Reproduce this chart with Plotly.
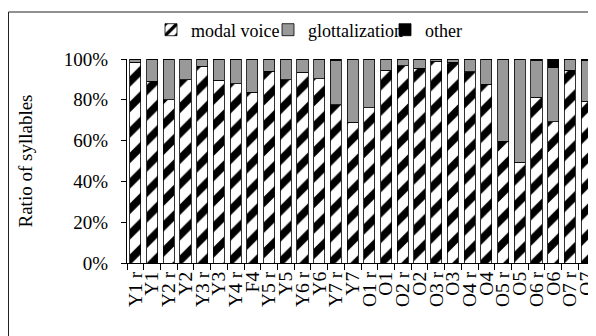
import plotly.graph_objects as go

categories = ["Y1 r", "Y1", "Y2 r", "Y2", "Y3 r", "Y3", "Y4 r", "F4", "Y5 r", "Y5",
              "Y6 r", "Y6", "Y7 r", "Y7", "O1 r", "O1", "O2 r", "O2", "O3 r", "O3",
              "O4 r", "O4", "O5 r", "O5", "O6 r", "O6", "O7 r", "O7"]
modal = [98.5, 89.1, 80.1, 89.9, 96.4, 89.5, 87.9, 83.7, 94.0, 89.9,
         93.6, 90.2, 77.6, 69.0, 76.0, 94.4, 96.7, 95.4, 98.9, 98.4,
         93.8, 87.7, 59.6, 49.3, 81.2, 69.3, 94.4, 79.2]
other = [0, 0, 0, 0, 0, 0, 0, 0, 0, 0,
         0, 0, 0.5, 0, 0, 0, 0, 0, 0, 0,
         0, 0, 0, 0, 0.5, 4.4, 0, 0.5]
glott = [round(100 - m - o, 1) for m, o in zip(modal, other)]
y_ticks = [0, 20, 40, 60, 80, 100]
y_tick_labels = ["0%", "20%", "40%", "60%", "80%", "100%"]

FONT = "Liberation Serif, Times New Roman, serif"
OFF = 8  # page body margin of the html page
W, H = 596 - OFF, 336 - OFF
ML, MR, MT, MB = 127 - OFF, 1, 59 - OFF, 73
PW, PH = W - ML - MR, H - MT - MB


def px_x(xw):
    return (xw - OFF - ML) / PW


def px_y(yw):
    return (H - MB - (yw - OFF)) / PH


fig = go.Figure()
fig.add_trace(go.Bar(
    x=categories, y=modal, name="modal voice", legend="legend",
    marker=dict(color="white", line=dict(color="black", width=0.8),
                pattern=dict(shape="/", fgcolor="black", bgcolor="white",
                             fgopacity=1, size=18, solidity=0.42,
                             fillmode="replace")),
))
fig.add_trace(go.Bar(
    x=categories, y=glott, name="glottalization", legend="legend2",
    marker=dict(color="#999999", line=dict(color="black", width=0.8)),
))
fig.add_trace(go.Bar(
    x=categories, y=other, name="other", legend="legend3",
    marker=dict(color="black", line=dict(color="black", width=0.8)),
))

# outer chart frame (only top/left edges fall inside the picture)
fig.add_shape(type="rect", xref="paper", yref="paper",
              x0=px_x(8.5), x1=1.1, y0=-1.0, y1=px_y(12),
              line=dict(color="#222222", width=1), fillcolor="rgba(0,0,0,0)",
              layer="below")

leg_common = dict(orientation="h", xanchor="left", yanchor="middle",
                  font=dict(family=FONT, size=18, color="black"),
                  itemwidth=30, bgcolor="rgba(0,0,0,0)", borderwidth=0)

fig.update_layout(
    width=W, height=H,
    margin=dict(l=ML, r=MR, t=MT, b=MB, autoexpand=False),
    barmode="stack", bargap=0.34,
    plot_bgcolor="white", paper_bgcolor="white",
    font=dict(family=FONT, size=20, color="black"),
    showlegend=True,
    legend=dict(x=px_x(192 - 41), y=px_y(30), **leg_common),
    legend2=dict(x=px_x(309 - 41), y=px_y(30), **leg_common),
    legend3=dict(x=px_x(426 - 41), y=px_y(30), **leg_common),
    xaxis=dict(type="category", tickmode="array", tickvals=categories,
               ticktext=categories, tickangle=-90, ticks="outside", ticklen=6,
               tickson="boundaries", tickcolor="black", showline=True,
               linecolor="black", linewidth=1, showgrid=False, automargin=False,
               tickfont=dict(family=FONT, size=19.5, color="black")),
    yaxis=dict(range=[0, 100], tickmode="array", tickvals=y_ticks,
               ticktext=y_tick_labels,
               ticks="outside", ticklen=5, tickcolor="black", showline=True,
               linecolor="black", linewidth=1, showgrid=False, zeroline=False,
               automargin=False, ticklabelstandoff=9,
               tickfont=dict(family=FONT, size=19, color="black"),
               title=dict(text="Ratio of syllables", standoff=26,
                          font=dict(family=FONT, size=19, color="black"))),
)

fig.write_html("out.html")
